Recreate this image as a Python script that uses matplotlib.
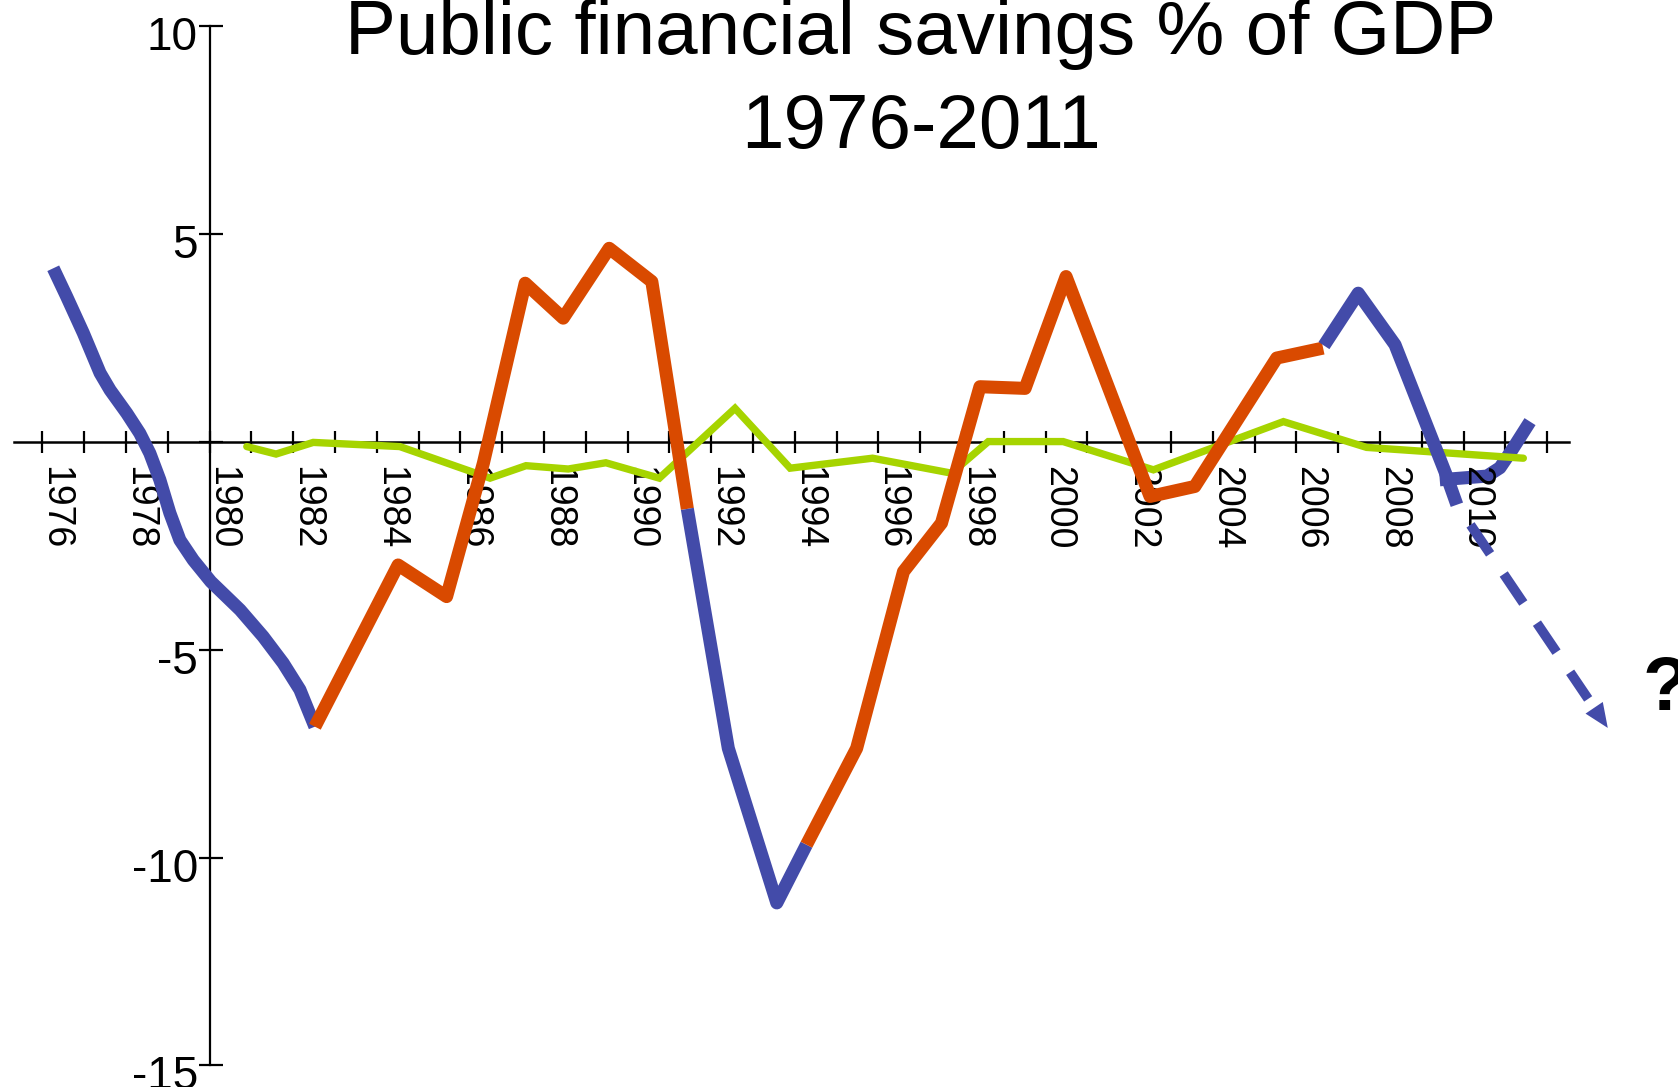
import matplotlib
matplotlib.use('Agg')
import matplotlib.pyplot as plt
import numpy as np

plt.rcParams['font.family'] = ['Liberation Sans', 'DejaVu Sans']

# Dados (anos fracionários, % do PIB)
blue_a_x = [1976.26, 1976.58, 1976.98, 1977.38, 1977.62, 1978.02, 1978.33, 1978.57, 1978.81,
            1979.05, 1979.29, 1979.61, 1980.03, 1980.73, 1981.28, 1981.76, 1982.16, 1982.52]
blue_a_y = [4.18, 3.50, 2.62, 1.66, 1.25, 0.69, 0.21, -0.27, -0.91,
            -1.71, -2.36, -2.84, -3.36, -4.04, -4.68, -5.32, -5.96, -6.85]

orange_a_x = [1982.52, 1984.51, 1985.67, 1986.55, 1987.55, 1988.46, 1989.56, 1990.58, 1991.43]
orange_a_y = [-6.85, -2.96, -3.72, -0.51, 3.82, 2.98, 4.66, 3.86, -1.61]

blue_b_x = [1991.43, 1992.41, 1993.57, 1994.28]
blue_b_y = [-1.61, -7.37, -11.09, -9.69]

orange_b_x = [1994.28, 1995.48, 1996.60, 1997.51, 1998.43, 1999.51, 2000.49, 2002.50, 2003.57, 2005.53, 2006.64]
orange_b_y = [-9.69, -7.37, -3.12, -1.95, 1.33, 1.29, 3.98, -1.31, -1.07, 2.02, 2.26]

blue_c_x = [2006.66, 2007.48, 2008.36, 2009.60, 2009.84]
blue_c_y = [2.32, 3.58, 2.34, -0.83, -1.51]

blue_d_x = [2009.43, 2010.56, 2010.87, 2011.16, 2011.59]
blue_d_y = [-0.91, -0.82, -0.62, -0.19, 0.49]

green_x = [1980.89, 1981.59, 1982.48, 1984.55, 1986.71, 1987.57, 1988.58, 1989.48, 1990.76, 1992.57,
           1993.89, 1995.86, 1997.75, 1998.63, 2000.42, 2002.58, 2005.69, 2007.68, 2011.43]
green_y = [-0.11, -0.29, -0.01, -0.11, -0.87, -0.57, -0.65, -0.50, -0.87, 0.81,
           -0.63, -0.39, -0.75, 0.01, 0.01, -0.67, 0.49, -0.13, -0.39]

# seta tracejada (projeção)
arrow_x = [2009.84, 2013.45]
arrow_y = [-1.51, -6.88]

x_ticks = list(range(1976, 2013))
x_labels = list(range(1976, 2011, 2))
y_ticks = [10, 5, 0, -5, -10, -15]
y_labels = ['10', '5', '', '-5', '-10', '-15']

BLUE = '#434BA9'
ORANGE = '#D94A00'
GREEN = '#A6D400'

fig = plt.figure(figsize=(16.78, 10.87), dpi=100)
ax = fig.add_axes([0, 0, 1, 1])
ax.axis('off')
ax.set_xlim(1974.986, 2015.13)
ax.set_ylim(-15.52, 10.635)

# eixos desenhados à mão (cruzam em 1980 / 0)
ax.plot([1975.32, 2012.52], [0, 0], color='black', lw=1.8, zorder=1)
ax.plot([1980, 1980], [10, -15], color='black', lw=1.6, zorder=1)
ax.vlines(x_ticks, -0.27, 0.27, color='black', lw=1.6, zorder=1)
ax.hlines(y_ticks, 1980 - 0.26, 1980 + 0.31, color='black', lw=1.6, zorder=1)

for ano in x_labels:
    ax.text(ano + 0.31, -0.58, str(ano), rotation=-90, ha='center', va='top', fontsize=27)
for v, lab in zip(y_ticks, y_labels):
    ax.text(1979.72, v - 0.58, lab, ha='right', va='baseline', fontsize=33)

# linhas
lw = 9.4
ax.plot(blue_d_x, blue_d_y, color=BLUE, lw=lw, solid_capstyle='butt', solid_joinstyle='round', zorder=2)
ax.plot(green_x, green_y, color=GREEN, lw=5.3, solid_capstyle='round', solid_joinstyle='miter', zorder=3)
ax.plot(blue_a_x, blue_a_y, color=BLUE, lw=lw, solid_capstyle='butt', solid_joinstyle='round', zorder=4)
ax.plot(orange_a_x, orange_a_y, color=ORANGE, lw=lw, solid_capstyle='butt', solid_joinstyle='round', zorder=4)
ax.plot(blue_b_x, blue_b_y, color=BLUE, lw=lw, solid_capstyle='butt', solid_joinstyle='round', zorder=4)
ax.plot(orange_b_x, orange_b_y, color=ORANGE, lw=lw, solid_capstyle='butt', solid_joinstyle='round', zorder=4)
ax.plot(blue_c_x, blue_c_y, color=BLUE, lw=lw, solid_capstyle='butt', solid_joinstyle='round', zorder=4)

# seta tracejada com ponta
base_x = arrow_x[1] - 0.13 * (arrow_x[1] - arrow_x[0])
base_y = arrow_y[1] - 0.13 * (arrow_y[1] - arrow_y[0])
ax.plot([arrow_x[0], base_x], [arrow_y[0], base_y], color=BLUE, lw=7,
        linestyle=(3.6, (3.6, 2.5)), dash_capstyle='butt', zorder=4)
ax.annotate('', xy=(arrow_x[1], arrow_y[1]), xytext=(base_x, base_y),
            arrowprops=dict(arrowstyle='-|>,head_length=1.75,head_width=0.75', color=BLUE,
                            lw=0, shrinkA=0, shrinkB=0, mutation_scale=10), zorder=4)

fig.text(1642 / 1678, 1 - 690 / 1087, '?', fontsize=55, fontweight='bold', ha='left', va='center')

# título
fig.text(921 / 1678, 1 - 53.5 / 1087, 'Public financial savings % of GDP', fontsize=55,
         ha='center', va='baseline')
fig.text(921 / 1678, 1 - 147.7 / 1087, '1976-2011', fontsize=55, ha='center', va='baseline')

plt.savefig('out.png', dpi=100)
